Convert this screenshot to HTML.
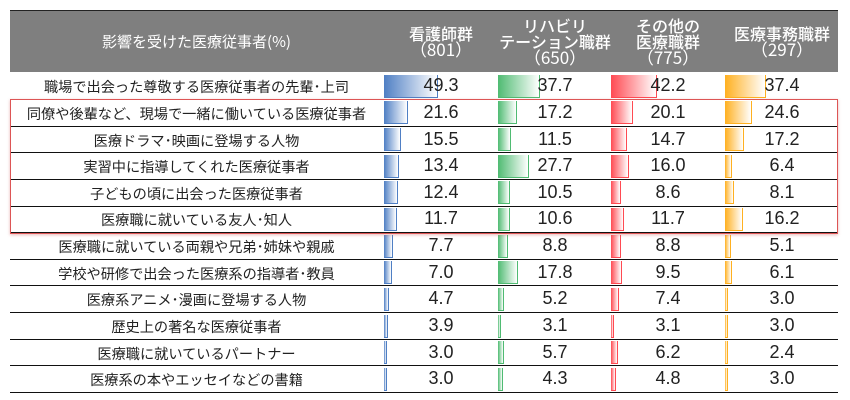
<!DOCTYPE html>
<html><head><meta charset="utf-8">
<style>
body{margin:0;width:850px;height:400px;background:#fff;position:relative;overflow:hidden;font-family:"Liberation Sans","Noto Sans CJK JP",sans-serif;}
.hdr{position:absolute;left:10px;top:10px;width:828px;height:62px;background:#7f7f7f;border-top:1px solid #222;box-sizing:border-box;}
.ht{position:absolute;color:#fff;text-align:center;font-size:16px;line-height:16px;font-weight:500;font-family:"Noto Sans CJK JP",sans-serif;}
.ht .p{font-weight:normal;font-size:17px;}
.line{position:absolute;left:10px;width:828px;height:1px;background:#111;}
.lab{position:absolute;left:10px;width:373px;text-align:center;font-size:14.2px;color:#222;}
.bar{position:absolute;box-sizing:border-box;}
.num{position:absolute;width:114px;text-align:center;font-size:18px;color:#222;}
.red{position:absolute;left:10px;top:99px;width:828px;height:135px;border:1.5px solid #d55;box-sizing:border-box;box-shadow:0 1px 3px rgba(200,80,80,.4);}
</style></head><body>
<div class="hdr"></div>
<div class="ht" style="left:10px;width:373px;top:34px;font-size:15px;font-weight:normal">影響を受けた医療従事者(%)</div>
<div class="ht" style="left:384px;width:114px;top:25px">看護師群<br><span class="p">（801）</span></div>
<div class="ht" style="left:498px;width:114px;top:17px">リハビリ<br>テーション職群<br><span class="p">（650）</span></div>
<div class="ht" style="left:611px;width:114px;top:17px">その他の<br>医療職群<br><span class="p">（775）</span></div>
<div class="ht" style="left:725px;width:114px;top:25px">医療事務職群<br><span class="p">（297）</span></div>
<div id="rows"></div>
<div class="red"></div>
<script>
var d=[["職場で出会った尊敬する医療従事者の先輩･上司",49.3,37.7,42.2,37.4],
["同僚や後輩など、現場で一緒に働いている医療従事者",21.6,17.2,20.1,24.6],
["医療ドラマ･映画に登場する人物",15.5,11.5,14.7,17.2],
["実習中に指導してくれた医療従事者",13.4,27.7,16.0,6.4],
["子どもの頃に出会った医療従事者",12.4,10.5,8.6,8.1],
["医療職に就いている友人･知人",11.7,10.6,11.7,16.2],
["医療職に就いている両親や兄弟･姉妹や親戚",7.7,8.8,8.8,5.1],
["学校や研修で出会った医療系の指導者･教員",7.0,17.8,9.5,6.1],
["医療系アニメ･漫画に登場する人物",4.7,5.2,7.4,3.0],
["歴史上の著名な医療従事者",3.9,3.1,3.1,3.0],
["医療職に就いているパートナー",3.0,5.7,6.2,2.4],
["医療系の本やエッセイなどの書籍",3.0,4.3,4.8,3.0]];
var xs=[384,498,611,725],cols=["#4f7fc4","#4fbb72","#ff4a52","#ffb020"];
var h="";
for(var i=0;i<d.length;i++){var t=72.7+26.65*i;
h+='<div class="line" style="top:'+(t+26.2).toFixed(1)+'px"></div>';
h+='<div class="lab" style="top:'+(t+4.5).toFixed(1)+'px">'+d[i][0]+'</div>';
for(var j=0;j<4;j++){var w=d[i][j+1]*1.1;
h+='<div class="bar" style="left:'+xs[j]+'px;top:'+(t+2).toFixed(1)+'px;width:'+w.toFixed(1)+'px;height:23px;background:linear-gradient(to right,'+cols[j]+',#fff);border:1px solid '+cols[j]+';border-left:none;border-top:none"></div>';
h+='<div class="num" style="left:'+xs[j]+'px;top:'+(t+2.5).toFixed(1)+'px">'+d[i][j+1].toFixed(1)+'</div>';}}
document.getElementById('rows').innerHTML=h;
</script>
</body></html>
